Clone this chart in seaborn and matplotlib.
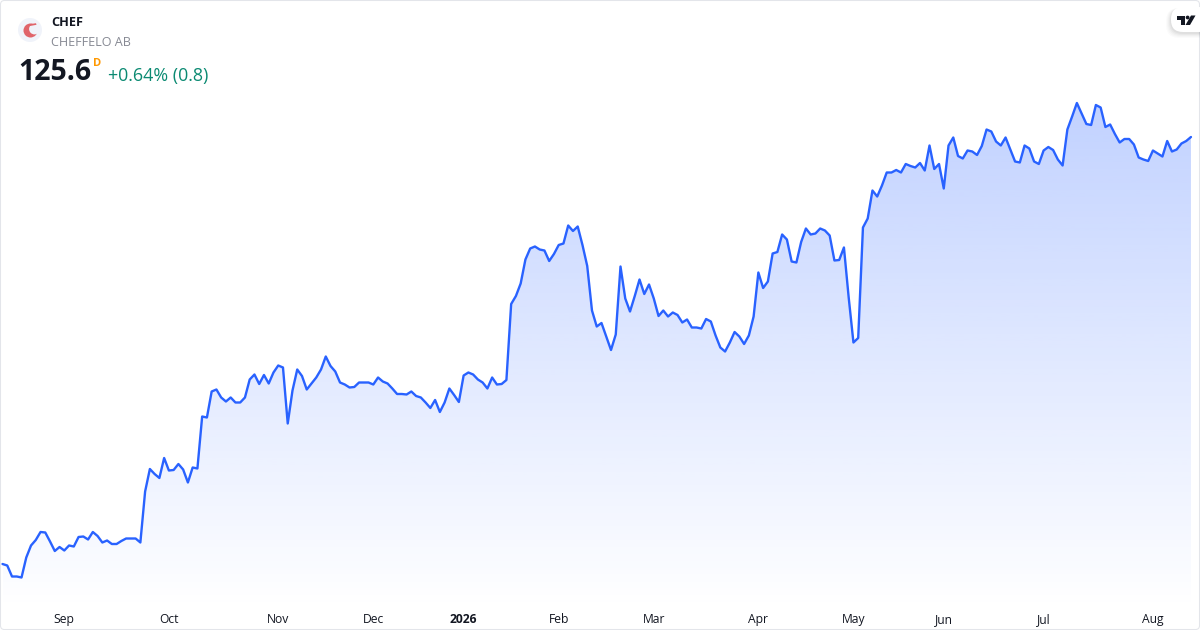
import numpy as np
import matplotlib
matplotlib.use('Agg')
import matplotlib.pyplot as plt
from matplotlib.patches import Circle, FancyBboxPatch, Polygon
from matplotlib.colors import to_rgb
import seaborn as sns

# daily close (trading days, mid Aug 2025 to mid Aug 2026)
close = [
    40.2, 39.9, 37.7, 37.7, 37.5, 41.5, 43.9, 45.0, 46.6, 46.5,
    44.7, 42.8, 43.6, 42.9, 43.9, 43.7, 45.6, 45.7, 45.1, 46.6,
    45.8, 44.5, 44.9, 44.2, 44.2, 44.8, 45.3, 45.3, 45.3, 44.5,
    54.7, 59.2, 58.2, 57.4, 61.4, 58.9, 59.0, 60.2, 59.1, 56.5,
    59.5, 59.3, 69.7, 69.5, 74.7, 75.1, 73.5, 72.7, 73.5, 72.5,
    72.5, 73.5, 77.1, 78.1, 76.2, 78.0, 76.3, 78.5, 79.9, 79.5,
    68.3, 74.9, 79.1, 77.8, 75.1, 76.3, 77.5, 79.1, 81.7, 79.8,
    78.7, 76.5, 76.1, 75.5, 75.6, 76.5, 76.5, 76.5, 76.1, 77.5,
    76.7, 76.3, 75.3, 74.2, 74.2, 74.1, 74.7, 73.8, 73.5, 72.5,
    71.4, 73.0, 70.6, 72.5, 75.3, 74.0, 72.6, 77.9, 78.5, 78.1,
    77.1, 76.5, 75.3, 77.5, 76.1, 76.2, 77.0, 92.2, 93.8, 96.3,
    101.1, 103.3, 103.7, 103.1, 102.9, 100.8, 102.2, 104.0, 104.3, 107.9,
    106.8, 107.7, 104.0, 99.8, 90.9, 87.7, 88.4, 85.7, 83.0, 86.1,
    99.7, 93.3, 90.7, 93.8, 97.1, 94.2, 96.1, 93.3, 89.8, 90.9,
    89.7, 90.5, 90.0, 88.5, 89.1, 87.5, 87.5, 87.3, 89.2, 88.7,
    85.9, 83.5, 82.7, 84.5, 86.6, 85.7, 84.2, 85.9, 89.7, 98.5,
    95.4, 96.7, 102.3, 102.6, 106.1, 105.1, 100.7, 100.5, 104.6, 107.3,
    106.1, 106.3, 107.3, 106.9, 105.9, 100.9, 101.0, 103.5, 93.5, 84.5,
    85.4, 107.5, 109.3, 114.9, 113.7, 115.9, 118.5, 118.5, 119.0, 118.5,
    120.2, 119.8, 119.5, 120.4, 118.9, 123.9, 119.2, 120.2, 115.3, 123.9,
    125.5, 121.8, 121.3, 122.9, 122.7, 122.0, 123.8, 127.1, 126.7, 124.7,
    123.9, 125.5, 123.1, 120.7, 120.5, 123.9, 123.3, 120.7, 120.2, 122.9,
    123.6, 123.0, 121.1, 119.9, 127.1, 129.7, 132.4, 130.3, 128.2, 128.0,
    132.0, 131.5, 127.6, 128.1, 126.2, 124.5, 125.2, 125.2, 124.1, 121.5,
    121.1, 120.8, 122.9, 122.3, 121.7, 124.8, 122.7, 123.1, 124.3, 124.8,
    125.6,
]
# first trading day of each month, as position in close
month_pos = [13, 35, 58, 78, 97, 117, 137, 159, 179, 198, 219, 242]
month_labels = ['Sep', 'Oct', 'Nov', 'Dec', '2026', 'Feb', 'Mar', 'Apr', 'May', 'Jun', 'Jul', 'Aug']

line_color = '#2962FF'
x = np.arange(len(close))

sns.set_theme(style='white')
plt.rcParams['font.family'] = ['Open Sans', 'DejaVu Sans']

fig = plt.figure(figsize=(12, 6.3), dpi=100)
ax = fig.add_axes([0, 0, 1, 1])

sns.lineplot(x=x, y=close, color=line_color, linewidth=1.7, ax=ax, zorder=3)

# gradient under the line
area = ax.fill_between(x, close, 27, color='none')
grad = np.zeros((256, 1, 4))
grad[:, 0, :3] = to_rgb(line_color)
grad[:, 0, 3] = np.linspace(0.29, 0.0, 256)
im = ax.imshow(grad, extent=[x[0], x[-1], 31, 133], aspect='auto', origin='upper', zorder=1)
im.set_clip_path(area.get_paths()[0], transform=ax.transData)

ax.set_xlim(-0.526, 251.9)
ax.set_ylim(27, 153)
ax.set_yticks([])
ax.set_xticks(month_pos)
ax.set_xticklabels(month_labels, fontsize=8.7, color='#131722')
ax.get_xticklabels()[4].set_fontweight('bold')
ax.tick_params(axis='x', length=0, pad=-12.5)
ax.set_xlabel('')
ax.set_ylabel('')
sns.despine(ax=ax, left=True, bottom=True)

# header and frame, in pixel coordinates
top = fig.add_axes([0, 0, 1, 1], facecolor='none')
top.set_xlim(0, 1200)
top.set_ylim(630, 0)
top.axis('off')

top.add_patch(FancyBboxPatch((0.5, 0.5), 1199, 629, boxstyle='round,pad=0,rounding_size=4',
                             fc='none', ec='#e3e5ea', lw=0.75))

top.add_patch(Circle((30, 30), 12, fc='#f0f3fa', ec='none'))
top.add_patch(Circle((30.5, 30.5), 7, fc='#e0646a', ec='none'))
top.add_patch(Circle((34.5, 29), 5.4, fc='#f0f3fa', ec='none'))
top.add_patch(Polygon([(27.5, 24.5), (36, 23.2), (36.5, 24.8), (30, 26)], fc='#e0646a', ec='none'))
top.text(51, 22.5, 'CHEF', color='#131722', fontsize=9.2, fontweight='bold', va='center')
top.text(51, 42, 'CHEFFELO AB', color='#868993', fontsize=9.1, va='center')
top.text(18.5, 73, '125.6', color='#131722', fontsize=20.5, fontweight='bold', va='center')
top.text(93, 63, 'D', color='#ff9800', fontsize=8, fontweight='bold', va='center')
top.text(108, 76, '+0.64% (0.8)', color='#0b8a72', fontsize=12.9, va='center')

# tradingview badge
for off, a in zip([5, 4, 3, 2, 1], [0.015, 0.02, 0.025, 0.03, 0.035]):
    top.add_patch(FancyBboxPatch((1171 - off, 8), 40 + off, 25 + off, boxstyle='round,pad=0,rounding_size=13',
                                 fc='black', ec='none', alpha=a, clip_on=True))
top.add_patch(FancyBboxPatch((1171, 7), 40, 25, boxstyle='round,pad=0,rounding_size=12',
                             fc='white', ec='none', clip_on=True))
top.add_patch(Polygon([(1177, 15.5), (1185, 15.5), (1185, 25), (1181, 25), (1181, 19.5), (1177, 19.5)], fc='#131722', ec='none'))
top.add_patch(Circle((1187.6, 17.5), 1.9, fc='#131722', ec='none'))
top.add_patch(Polygon([(1191, 15.5), (1195.5, 15.5), (1190, 25), (1185.5, 25)], fc='#131722', ec='none'))

fig.savefig('out.png', dpi=100)
